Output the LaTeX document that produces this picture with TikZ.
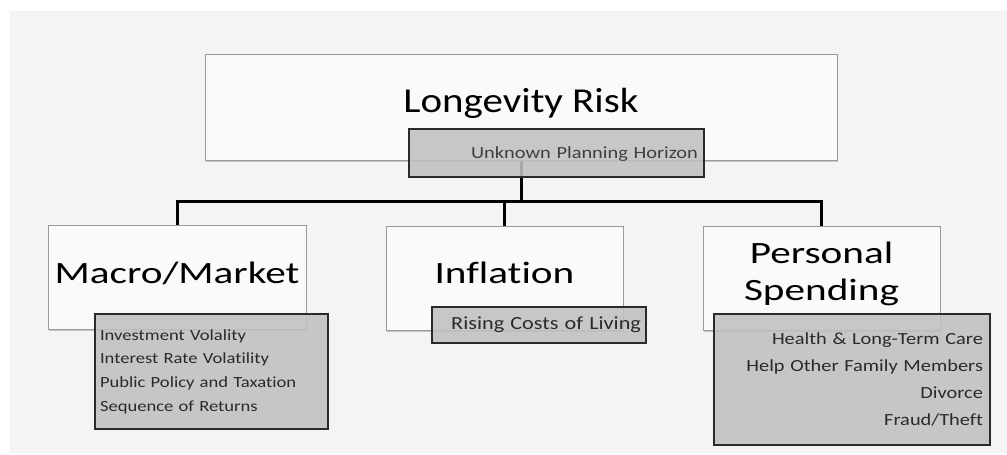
\documentclass[tikz,border=0pt]{standalone}
\usepackage{fontspec}
\usepackage{tikz}
\usetikzlibrary{shadows}
\definecolor{canvas}{HTML}{F4F4F4}
\definecolor{paper}{HTML}{FAFAFA}
\definecolor{rim}{HTML}{9A9A9A}
\definecolor{notegray}{HTML}{C0C0C0}
\definecolor{ink}{HTML}{2A2A2A}
\newfontfamily\titlefont[FakeStretch=1.17, Ligatures={NoCommon,NoContextual}, Contextuals=NoAlternate]{Carlito}
\newfontfamily\catfont[FakeStretch=1.33, Ligatures={NoCommon,NoContextual}, Contextuals=NoAlternate]{Carlito}
\newfontfamily\itemfont[FakeStretch=1.2, Ligatures={NoCommon,NoContextual}, Contextuals=NoAlternate]{Carlito}

\begin{document}
\begin{tikzpicture}[x=1pt, y=-1pt,
  catbox/.style={draw=rim, fill=paper, line width=1pt, inner sep=0pt,
                 drop shadow={shadow xshift=1pt, shadow yshift=-2pt, opacity=0.4},
                 font=\catfont\fontsize{31}{37}\selectfont, align=center},
  notebox/.style={draw=ink, fill=notegray, fill opacity=0.88, text opacity=1,
                  line width=1.3pt, inner xsep=6pt, inner ysep=0pt, text=ink},
  link/.style={line width=3pt, black},
]
\useasboundingbox (0,0) rectangle (1007,455);
\fill[canvas] (10,11) rectangle (1007,453);

\node[catbox, font=\titlefont\fontsize{35}{40}\selectfont, minimum width=632pt,
      minimum height=106pt, text height=25pt, text depth=15pt] (risk) at (521,107) {Longevity Risk};
\node[catbox, minimum width=258pt, minimum height=104pt, text height=22pt, text depth=10pt]
      (macro) at (177,277) {Macro/Market};
\node[catbox, minimum width=237pt, minimum height=104pt, text height=22pt, text depth=12pt]
      (infl) at (504.5,278) {Inflation};
\node[catbox, minimum width=237pt, minimum height=104pt, text height=59pt, text depth=15pt]
      (pers) at (821.5,278) {Personal\\Spending};

% tree connectors
\coordinate (fork) at (521,201);
\draw[link] (risk.south) -- (fork);
\draw[link] (macro.north) |- (fork) -| (pers.north);
\draw[link] (fork -| infl.north) -- (infl.north);

% detail boxes
\node[notebox, font=\itemfont\fontsize{17}{20}\selectfont, text=ink!90, text width=283pt, align=right,
      minimum height=48pt, text height=12pt, text depth=2pt] (horizon) at (556.5,153) {Unknown Planning Horizon};
\node[notebox, font=\itemfont\fontsize{15.5}{23.7}\selectfont, text width=223pt, inner xsep=5pt,
      align=left, minimum height=115pt] (macroitems) at (211.5,371.5)
      {Investment Volality\\Interest Rate Volatility\\Public Policy and Taxation\\Sequence of Returns};
\node[notebox, font=\itemfont\fontsize{18.5}{22}\selectfont, text width=204pt, inner xsep=5pt,
      align=right, minimum height=36pt, text height=12.5pt, text depth=4.5pt] (inflitems) at (539,325)
      {Rising Costs of Living};
\node[notebox, font=\itemfont\fontsize{17}{27}\selectfont, text width=262pt, inner xsep=7pt,
      align=right, minimum height=131pt] (persitems) at (852,379.5)
      {Health \& Long-Term Care\\Help Other Family Members\\Divorce\\Fraud/Theft};
\end{tikzpicture}
\end{document}
